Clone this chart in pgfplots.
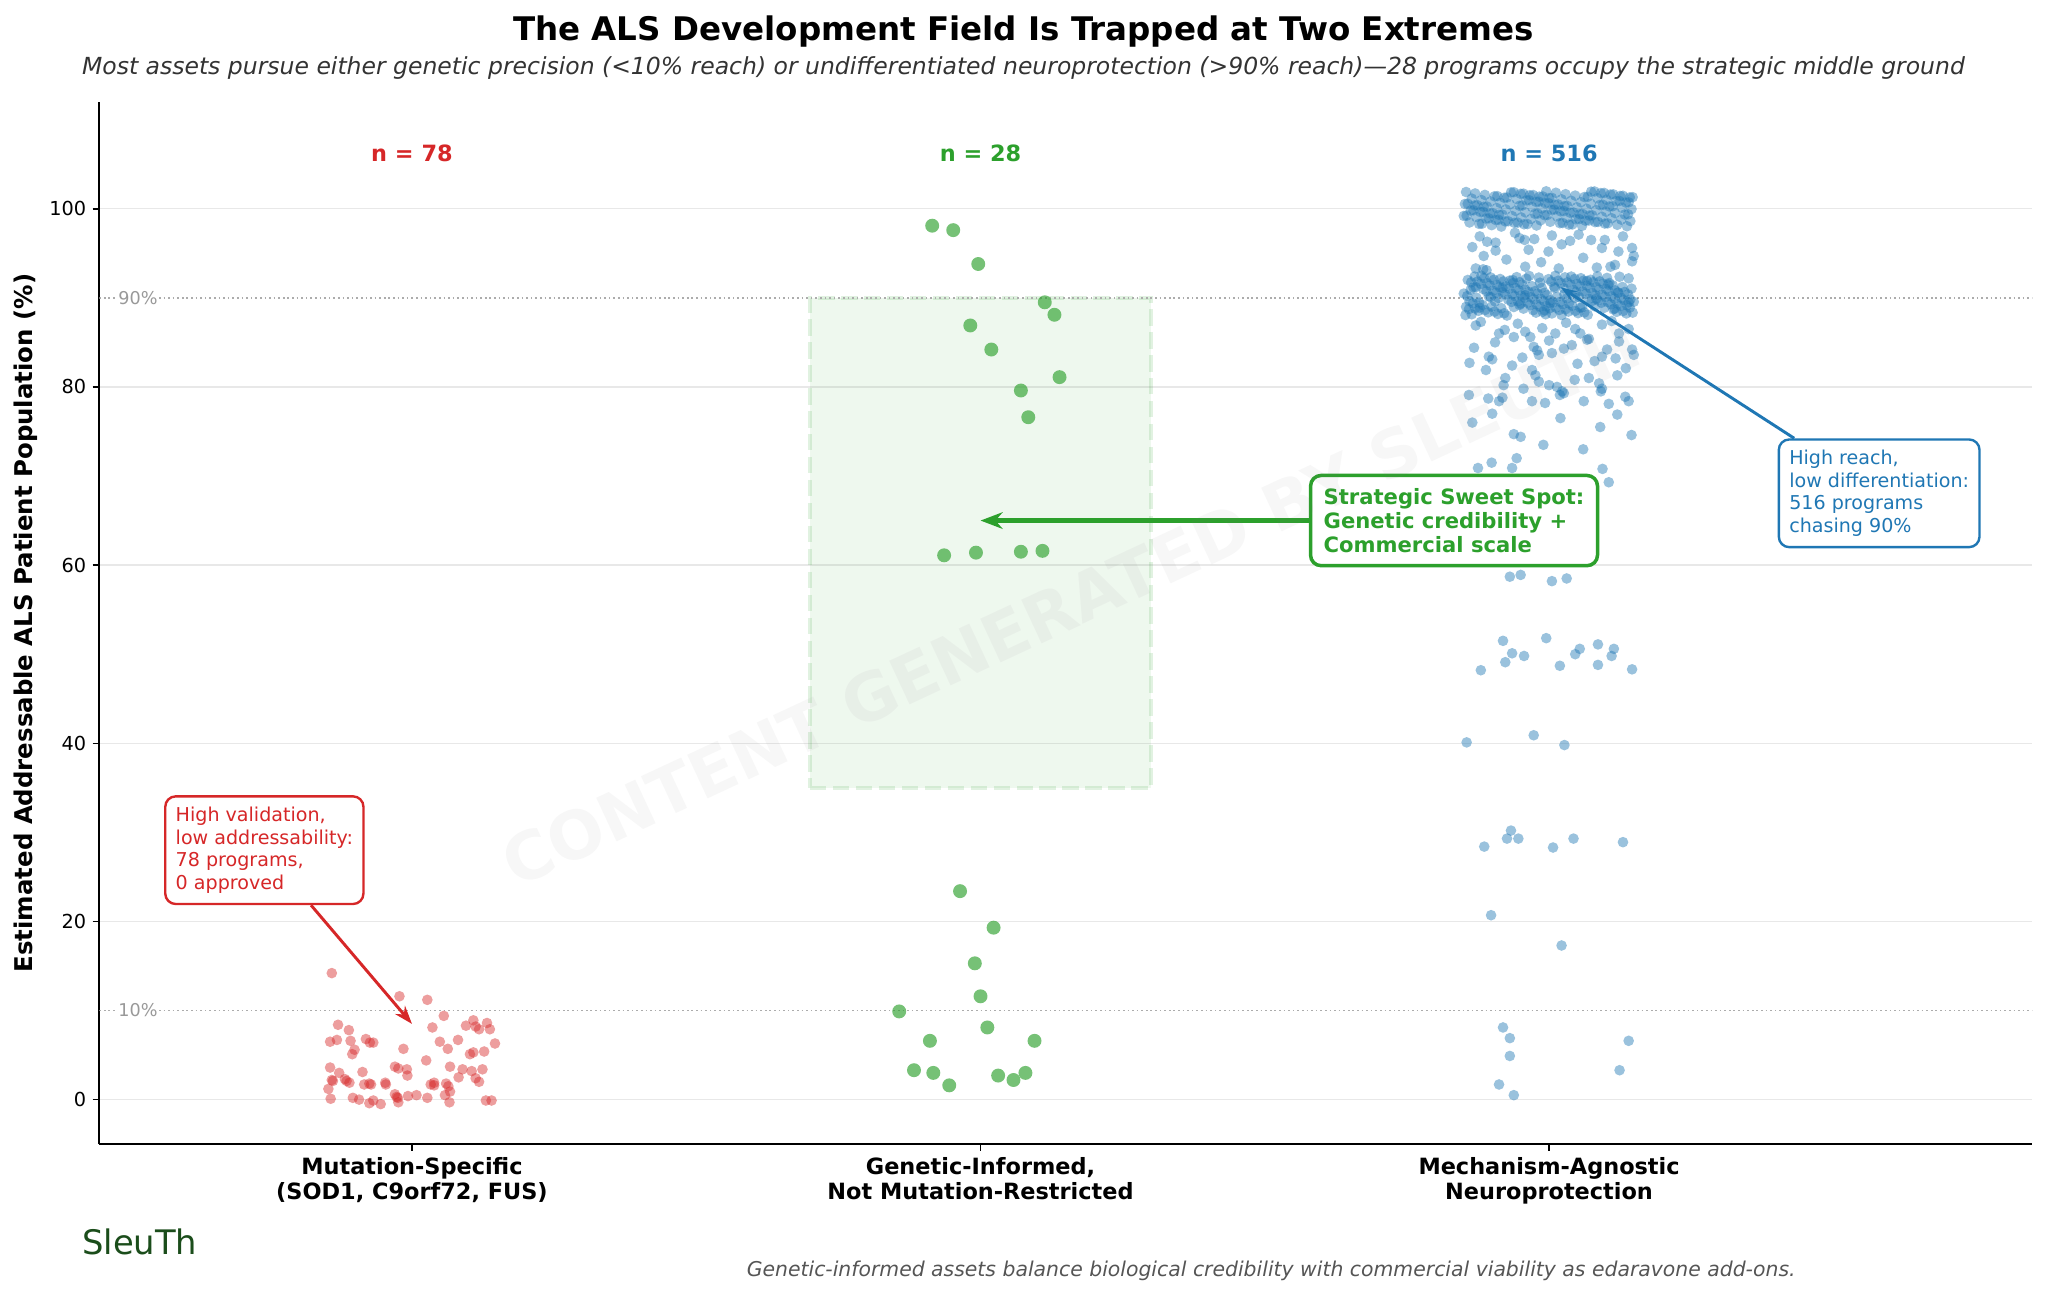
\documentclass[border=0pt]{standalone}
\usepackage{fontspec}
\setmainfont{DejaVu Sans}
\usepackage{pgfplots}
\pgfplotsset{compat=1.18}
\usepackage{pgfplotstable}
\usetikzlibrary{arrows.meta}
\definecolor{tabred}{HTML}{D62728}
\definecolor{tabgreen}{HTML}{2CA02C}
\definecolor{tabblue}{HTML}{1F77B4}
\definecolor{logogreen}{HTML}{1B4D1B}
\definecolor{subgray}{HTML}{333333}
\definecolor{footgray}{HTML}{555555}

\pgfplotstableread{
x y
-0.141 14.2
-0.022 11.6
0.027 11.2
0.056 9.4
-0.130 8.4
-0.111 7.8
0.036 8.1
0.095 8.3
0.108 8.9
0.112 8.2
0.118 7.9
0.132 8.6
0.137 7.9
-0.144 6.5
-0.132 6.7
-0.108 6.6
-0.081 6.8
-0.074 6.4
-0.068 6.4
-0.101 5.6
-0.105 5.1
-0.015 5.7
0.049 6.5
0.063 5.7
0.081 6.7
0.102 5.1
0.108 5.3
0.127 5.4
0.146 6.3
0.025 4.4
-0.144 3.6
-0.128 3.0
-0.087 3.1
-0.030 3.7
-0.024 3.5
-0.009 3.4
-0.008 2.7
0.067 3.7
0.089 3.4
0.105 3.2
0.124 3.4
0.082 2.5
0.112 2.4
0.118 2.0
-0.141 2.2
-0.139 2.1
-0.118 2.3
-0.110 1.9
-0.084 1.7
-0.075 1.8
-0.072 1.7
-0.047 1.9
-0.046 1.7
0.033 1.7
0.039 1.6
0.060 1.8
0.064 1.5
0.067 0.9
-0.147 1.2
-0.143 0.1
-0.104 0.2
-0.093 0.0
-0.075 -0.4
-0.068 -0.1
-0.055 -0.5
-0.030 0.6
-0.025 0.2
-0.024 -0.3
-0.007 0.4
0.008 0.5
0.027 0.2
0.058 0.5
0.066 -0.3
0.130 -0.1
0.140 -0.1
-0.115 2.1
0.039 1.9
-0.027 0.3
}\redpts

\pgfplotstableread{
x y
0.915 98.1
0.952 97.6
0.996 93.8
1.113 89.5
1.130 88.1
0.982 86.9
1.019 84.2
1.139 81.1
1.071 79.6
1.084 76.6
0.936 61.1
0.992 61.4
1.071 61.5
1.109 61.6
0.964 23.4
1.023 19.3
0.990 15.3
1.000 11.6
0.857 9.9
1.012 8.1
0.911 6.6
1.095 6.6
0.883 3.3
0.917 3.0
0.945 1.6
1.031 2.7
1.058 2.2
1.079 3.0
}\greenpts

\pgfplotstableread{
x y
1.850 99.20
2.035 98.22
1.921 101.24
2.106 100.26
1.992 99.28
1.877 98.30
2.062 101.32
1.948 100.34
2.133 99.36
2.019 98.38
1.904 101.40
2.089 100.42
1.975 99.44
1.860 98.46
2.046 101.48
1.931 100.50
2.116 99.52
2.002 98.54
1.887 101.56
2.073 100.58
1.958 99.60
2.143 98.62
2.029 101.64
1.914 100.66
2.100 99.68
1.985 98.70
1.870 101.72
2.056 100.74
1.941 99.76
2.127 98.78
2.012 101.80
1.897 100.82
2.083 99.84
1.968 98.86
1.854 101.88
2.039 100.90
1.924 99.92
2.110 98.94
1.995 101.96
1.881 100.98
2.066 100.00
1.951 99.02
2.137 98.04
2.022 101.06
1.908 100.08
2.093 99.10
1.978 98.12
1.864 101.14
2.049 100.16
1.935 99.18
2.120 98.20
2.005 101.22
1.891 100.24
2.076 99.26
1.962 98.28
2.147 101.30
2.032 100.32
1.918 99.34
2.103 98.36
1.989 101.38
1.874 100.40
2.059 99.42
1.945 98.44
2.130 101.46
2.016 100.48
1.901 99.50
2.086 98.52
1.972 101.54
1.857 100.56
2.043 99.58
1.928 98.60
2.113 101.62
1.999 100.64
1.884 99.66
2.070 98.68
1.955 101.70
2.140 100.72
2.026 99.74
1.911 98.76
2.097 101.78
1.982 100.80
1.867 99.82
2.053 98.84
1.938 101.86
2.124 100.88
2.009 99.90
1.894 98.92
2.080 101.94
1.965 100.96
2.000 101.20
1.885 100.22
2.071 99.24
1.956 98.26
2.142 101.28
2.027 100.30
1.912 99.32
2.098 98.34
1.983 101.36
1.869 100.38
2.054 99.40
1.939 98.42
2.125 101.44
2.010 100.46
1.896 99.48
2.081 98.50
1.966 101.52
1.852 100.54
2.037 99.56
1.923 98.58
2.108 101.60
1.993 100.62
1.879 99.64
2.064 98.66
1.950 101.68
2.135 100.70
2.020 99.72
1.906 98.74
2.091 101.76
1.977 100.78
1.862 99.80
2.047 98.82
1.933 101.84
2.118 100.86
2.004 99.88
1.889 98.90
2.074 101.92
1.960 100.94
2.145 99.96
2.031 98.98
1.916 98.00
2.101 101.02
1.987 100.04
1.872 99.06
2.058 98.08
1.943 101.10
2.128 100.12
2.014 99.14
1.899 98.16
2.085 101.18
1.970 100.20
1.855 99.22
2.041 98.24
1.926 101.26
2.112 100.28
1.997 99.30
1.882 98.32
2.068 101.34
1.953 100.36
2.139 99.38
2.024 98.40
1.909 101.42
2.095 100.44
1.980 99.46
1.865 95.7
1.891 96.3
1.906 96.2
1.906 95.3
1.885 94.7
1.871 93.3
1.884 93.2
1.948 96.7
1.957 96.5
1.974 96.6
1.964 95.4
1.999 95.2
2.022 96.0
2.037 96.4
2.052 97.1
2.074 96.5
2.093 95.6
2.098 96.5
2.122 95.2
2.146 95.6
2.149 94.7
2.146 94.1
2.116 93.7
2.108 93.5
2.084 93.4
1.958 93.5
1.890 93.1
2.017 93.3
1.925 94.3
1.986 94.0
2.060 94.5
1.940 97.3
2.005 97.0
1.878 96.9
2.130 96.9
1.850 90.48
2.035 89.37
1.921 88.27
2.106 91.67
1.992 90.57
1.877 89.46
2.062 88.36
1.948 91.76
2.133 90.66
2.019 89.55
1.904 88.45
2.089 91.85
1.975 90.75
1.860 89.64
2.046 88.54
1.931 91.94
2.116 90.84
2.002 89.73
1.887 88.63
2.073 92.03
1.958 90.93
2.143 89.82
2.029 88.72
1.914 92.12
2.100 91.02
1.985 89.91
1.870 88.81
2.056 92.21
1.941 91.11
2.127 90.00
2.012 88.90
1.897 92.30
2.083 91.20
1.968 90.09
1.854 88.99
2.039 92.39
1.924 91.29
2.110 90.18
1.995 89.08
1.881 92.48
2.066 91.38
1.951 90.27
2.137 89.17
2.022 88.07
1.908 91.47
2.093 90.36
1.978 89.26
1.864 88.16
2.049 91.56
1.935 90.45
2.120 89.35
2.005 88.25
1.891 91.65
2.076 90.54
1.962 89.44
2.147 88.34
2.032 91.74
1.918 90.63
2.103 89.53
1.989 88.43
1.874 91.83
2.059 90.72
1.945 89.62
2.130 88.52
2.016 91.92
1.901 90.81
2.086 89.71
1.972 88.61
1.857 92.01
2.043 90.90
1.928 89.80
2.113 88.70
1.999 92.10
1.884 90.99
2.070 89.89
1.955 88.79
2.140 92.19
2.026 91.08
1.911 89.98
2.097 88.88
1.982 92.28
1.867 91.17
2.053 90.07
1.938 88.97
2.124 92.37
2.009 91.26
1.894 90.16
2.080 89.06
1.965 92.46
1.960 92.15
2.145 91.04
2.031 89.94
1.916 88.84
2.102 92.24
1.987 91.13
1.872 90.03
2.058 88.93
1.943 92.33
2.129 91.22
2.014 90.12
1.899 89.02
2.085 92.42
1.970 91.31
1.856 90.21
2.041 89.11
1.926 88.01
2.112 91.40
1.997 90.30
1.883 89.20
2.068 88.10
1.953 91.49
2.139 90.39
2.024 89.29
1.910 88.19
2.095 91.58
1.980 90.48
1.866 89.38
2.051 88.28
1.937 91.67
2.122 90.57
2.007 89.47
1.893 88.37
2.078 91.76
1.964 90.66
2.149 89.56
2.034 88.46
1.920 91.85
2.105 90.75
1.991 89.65
1.876 88.55
2.061 91.94
1.947 90.84
2.132 89.74
2.018 88.64
1.903 92.03
2.088 90.93
1.974 89.83
1.859 88.73
2.045 92.12
1.930 91.02
2.115 89.92
2.001 88.82
1.886 92.21
2.072 91.11
1.957 90.01
2.142 88.91
2.028 92.30
1.913 91.20
2.099 90.10
1.984 89.00
1.869 92.39
2.055 91.29
1.940 90.19
2.126 89.09
2.011 92.48
1.896 91.38
2.082 90.28
1.967 89.18
1.853 88.07
2.038 91.47
1.923 90.37
2.109 89.27
1.994 88.16
1.880 91.56
2.065 90.46
1.950 89.36
2.136 88.25
2.021 91.65
1.907 90.55
2.092 89.45
1.977 88.34
1.863 91.74
2.048 90.64
1.934 89.54
2.119 88.43
2.004 91.83
1.890 90.73
2.075 89.63
1.862 90.9
1.905 89.6
1.958 90.3
2.010 91.1
2.083 89.9
2.121 90.6
1.878 88.9
1.992 88.6
2.046 90.0
2.104 91.5
1.936 92.0
1.871 91.2
2.027 90.4
2.140 89.5
1.948 89.2
2.067 91.9
1.897 90.1
2.002 89.4
2.115 88.8
1.918 91.1
2.055 88.9
1.984 91.7
1.871 86.9
1.912 86.0
1.922 86.4
1.938 85.6
1.958 86.2
1.967 85.6
1.988 86.6
2.011 86.0
2.046 86.5
2.055 86.0
2.067 85.3
2.093 87.0
2.123 86.0
2.140 86.5
1.868 84.4
1.894 83.4
1.900 83.1
1.953 83.3
1.973 84.5
1.979 84.1
1.982 83.6
2.005 83.8
2.026 84.3
2.040 84.7
2.070 85.4
2.093 83.4
2.102 84.2
2.117 83.2
2.123 85.1
2.146 84.2
2.149 83.6
1.889 81.9
1.923 81.0
1.920 80.2
1.970 81.9
1.976 81.3
1.982 80.6
2.000 80.2
2.014 80.0
2.023 79.5
2.070 81.0
2.088 80.4
2.091 79.5
2.120 81.3
1.859 79.1
1.893 78.7
1.912 78.4
1.918 78.8
1.970 78.4
1.993 78.2
2.019 79.1
2.026 79.3
2.061 78.4
2.093 79.8
2.134 78.9
2.140 78.4
1.880 87.3
1.945 87.1
2.030 87.2
2.110 87.4
1.860 82.7
1.935 82.4
2.050 82.6
2.135 82.1
1.905 85.0
2.000 85.2
2.080 82.9
1.955 79.8
2.045 80.8
2.105 78.1
1.865 76.0
1.938 74.7
2.145 74.6
1.950 74.4
2.020 76.5
2.090 75.5
1.900 77.0
2.120 76.9
1.990 73.5
2.060 73.0
1.875 70.9
1.899 71.5
1.943 72.0
1.935 70.9
2.094 70.8
2.105 69.3
1.880 66.5
1.960 63.2
2.040 67.8
1.905 61.5
2.070 64.4
1.931 58.7
1.950 58.9
2.005 58.2
2.031 58.5
1.919 51.5
1.935 50.1
1.923 49.1
1.880 48.2
1.956 49.8
1.995 51.8
2.019 48.7
2.046 50.0
2.054 50.6
2.086 51.1
2.086 48.8
2.110 49.8
2.114 50.6
2.146 48.3
1.855 40.1
1.973 40.9
2.027 39.8
1.886 28.4
1.926 29.3
1.933 30.2
1.946 29.3
2.007 28.3
2.043 29.3
2.130 28.9
1.898 20.7
2.022 17.3
1.919 8.1
1.931 6.9
1.931 4.9
1.912 1.7
1.938 0.5
2.140 6.6
2.124 3.3
}\bluepts

\begin{document}
\begin{tikzpicture}[x=1cm,y=1cm]
\path[use as bounding box] (0,0) rectangle (39.2,24.825);
\begin{axis}[
  at={(1.9cm,2.925cm)}, anchor=south west,
  scale only axis, width=37cm, height=19.95cm,
  xmin=-0.55, xmax=2.85, ymin=-5, ymax=112,
  axis x line*=bottom, axis y line*=left,
  axis line style={-, line width=1.1pt, black},
  xtick={0,1,2},
  xticklabels={{Mutation-Specific\\(SOD1, C9orf72, FUS)},{Genetic-Informed,\\Not Mutation-Restricted},{Mechanism-Agnostic\\Neuroprotection}},
  ytick={0,20,40,60,80,100},
  tick align=outside, major tick length=0.125cm,
  tick style={black, line width=0.8pt},
  ymajorgrids, grid style={gray!18, line width=0.7pt},
  yticklabel style={font=\fontsize{10.5}{12}\selectfont},
  xticklabel style={font=\fontsize{12.2}{13.6}\selectfont\bfseries, align=center},
  /pgf/number format/assume math mode=true,
  clip mode=individual,
]
% highlighted middle ground
\addplot[fill=tabgreen, fill opacity=0.08, draw=none] coordinates {(0.7,35) (1.3,35) (1.3,90) (0.7,90)} -- cycle;
\addplot[tabgreen, draw opacity=0.14, line width=2pt, dash pattern=on 9pt off 3.5pt] coordinates {(0.7,35) (1.3,35) (1.3,90) (0.7,90) (0.7,35)};
% reference lines
\addplot[gray!65, line width=0.9pt, dash pattern=on 0.9pt off 1.6pt] coordinates {(-0.55,90) (2.85,90)};
\addplot[gray!65, line width=0.9pt, dash pattern=on 0.9pt off 1.6pt] coordinates {(-0.55,10) (2.85,10)};
\node[anchor=west, fill=white, inner sep=0.6pt, text=gray!80, font=\fontsize{9.6}{11}\selectfont] at (axis cs:-0.519,90) {90\%};
\node[anchor=west, fill=white, inner sep=0.6pt, text=gray!80, font=\fontsize{9.6}{11}\selectfont] at (axis cs:-0.519,10) {10\%};
% points
\addplot[only marks, mark=*, color=tabred, mark size=2.9pt, mark options={fill=tabred, fill opacity=0.45, draw opacity=0}] table {\redpts};
\addplot[only marks, mark=*, color=tabgreen, mark size=3.8pt, mark options={fill=tabgreen, fill opacity=0.65, draw opacity=0}] table {\greenpts};
\addplot[only marks, mark=*, color=tabblue, mark size=2.9pt, mark options={fill=tabblue, fill opacity=0.45, draw opacity=0}] table {\bluepts};
% counts
\node[anchor=base, text=tabred, font=\fontsize{12.2}{14}\selectfont\bfseries] at (axis cs:0,105.3) {n = 78};
\node[anchor=base, text=tabgreen, font=\fontsize{12.2}{14}\selectfont\bfseries] at (axis cs:1,105.3) {n = 28};
\node[anchor=base, text=tabblue, font=\fontsize{12.2}{14}\selectfont\bfseries] at (axis cs:2,105.3) {n = 516};
% annotations
\node[draw=tabred, line width=1.3pt, rounded corners=0.2cm, fill=white, inner sep=0.2cm, align=left, anchor=west, text=tabred, font=\fontsize{10.4}{12.4}\selectfont] (rbox) at (axis cs:-0.436,28) {High validation,\\low addressability:\\78 programs,\\0 approved};
\draw[tabred, line width=1.6pt, -{Stealth[length=10pt, width=7pt]}] (rbox) -- (axis cs:0,8.5);
\node[draw=tabgreen, line width=1.9pt, rounded corners=0.2cm, fill=white, inner sep=0.25cm, align=left, anchor=west, text=tabgreen, font=\fontsize{11.5}{13}\selectfont\bfseries] (gbox) at (axis cs:1.5775,65) {Strategic Sweet Spot:\\Genetic credibility +\\Commercial scale};
\draw[tabgreen, line width=2.5pt, -{Stealth[length=12pt, width=9pt]}] (gbox) -- (axis cs:1.0,65);
\node[draw=tabblue, line width=1.3pt, rounded corners=0.2cm, fill=white, inner sep=0.2cm, align=left, anchor=west, text=tabblue, font=\fontsize{10.4}{12.4}\selectfont] (bbox) at (axis cs:2.402,68.06) {High reach,\\low differentiation:\\516 programs\\chasing 90\%};
\draw[tabblue, line width=1.6pt, -{Stealth[length=9pt, width=6pt]}] (bbox) -- (axis cs:2.02,91.2);
\end{axis}
% watermark
\node[rotate=25, text=gray, opacity=0.065, font=\fontsize{36}{40}\selectfont\bfseries] at (20.5,13.27) {CONTENT GENERATED BY SLEUTH};
% titles
\node[anchor=base, font=\fontsize{17.7}{21}\selectfont\bfseries] at (19.59,24.05) {The ALS Development Field Is Trapped at Two Extremes};
\node[anchor=base, text=subgray, font=\fontsize{12.8}{15}\selectfont\itshape] at (19.59,23.4) {Most assets pursue either genetic precision (<10\% reach) or undifferentiated neuroprotection (>90\% reach)—28 programs occupy the strategic middle ground};
\node[rotate=90, font=\fontsize{13.3}{15}\selectfont\bfseries] at (0.495,12.9) {Estimated Addressable ALS Patient Population (\%)};
\node[anchor=base west, text=logogreen, font=\fontsize{18.4}{20}\selectfont] at (1.45,0.82) {SleuTh};
\node[anchor=base, text=footgray, font=\fontsize{11.1}{13}\selectfont\itshape] at (24.33,0.39) {Genetic-informed assets balance biological credibility with commercial viability as edaravone add-ons.};
\end{tikzpicture}
\end{document}
